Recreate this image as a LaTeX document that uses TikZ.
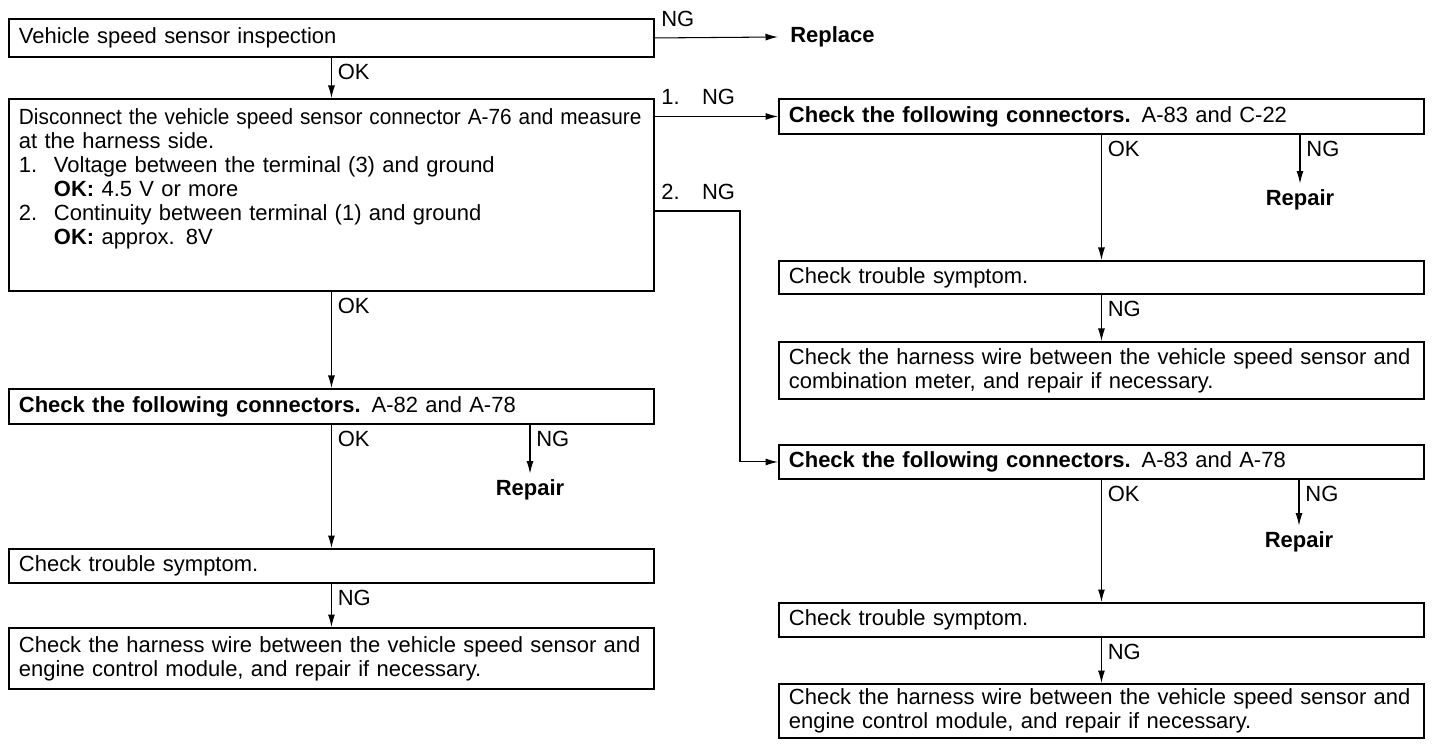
\documentclass[tikz,border=0pt]{standalone}
\usepackage{fontspec}
\setmainfont{Liberation Sans}
\usetikzlibrary{arrows.meta}

\tikzset{
	box/.style = {draw, line width = 1.1pt, anchor = north west, minimum width = 12.9cm, text width = 12.5cm, inner xsep = 0.2cm, inner ysep = 0.1cm, align = left},
	flow/.style = {->, line width = 0.6pt},
	result/.style = {font = \fontsize{12.5}{13.66}\selectfont\bfseries}
}

\begin{document}
\begin{tikzpicture}[> = {Latex[length = 0.25cm, width = 0.14cm]}, font = \fontsize{12.5}{13.66}\selectfont]

	\useasboundingbox (0, 0) rectangle (28.8, -14.96);

	% Left column
	
	\node [box, minimum height = 0.76cm] (vss) at (0.16, -0.36) {Vehicle speed sensor inspection};
	\node [box, minimum height = 3.84cm, inner ysep = 0.2cm] (meas) at (0.16, -1.96) {\parbox[t][3.44cm][t]{12.5cm}{%
		\resizebox{12.45cm}{\height}{Disconnect the vehicle speed sensor connector A-76 and measure}\\
		at the harness side.\\
		\makebox[0.7cm][l]{1.}Voltage between the terminal (3) and ground\\
		\hspace*{0.7cm}\textbf{OK:} 4.5 V or more\\
		\makebox[0.7cm][l]{2.}Continuity between terminal (1) and ground\\
		\hspace*{0.7cm}\textbf{OK:} approx. 8V}};
	\node [box, minimum height = 0.70cm] (conA) at (0.16, -7.76) {\textbf{Check the following connectors.} A-82 and A-78};
	\node [box, minimum height = 0.68cm] (symA) at (0.16, -10.96) {Check trouble symptom.};
	\node [box, minimum height = 1.22cm] (wireA) at (0.16, -12.54) {\mbox{Check the harness wire between the vehicle speed sensor and}\\ engine control module, and repair if necessary.};

	% Right column
	
	\node [box, minimum height = 0.70cm] (conB) at (15.56, -1.96) {\textbf{Check the following connectors.} A-83 and C-22};
	\node [box, minimum height = 0.66cm] (symB) at (15.56, -5.20) {Check trouble symptom.};
	\node [box, minimum height = 1.14cm] (wireB) at (15.56, -6.82) {\mbox{Check the harness wire between the vehicle speed sensor and}\\ combination meter, and repair if necessary.};
	\node [box, minimum height = 0.68cm] (conC) at (15.56, -8.88) {\textbf{Check the following connectors.} A-83 and A-78};
	\node [box, minimum height = 0.68cm] (symC) at (15.56, -12.04) {Check trouble symptom.};
	\node [box, minimum height = 1.08cm] (wireC) at (15.56, -13.66) {\mbox{Check the harness wire between the vehicle speed sensor and}\\ engine control module, and repair if necessary.};

	% Results
	
	\node [result, anchor = west, inner xsep = 0.24cm] (replace) at (15.56, -0.74) {Replace};
	\node [result] (repA) at (10.6, -9.8) {Repair};
	\node [result] (repB) at (26.0, -4.0) {Repair};
	\node [result] (repC) at (25.98, -10.84) {Repair};

	\coordinate (bend) at (14.8, -4.22);

	% Arrows
	
	\draw [flow] (vss.east) -- (replace.west) node [pos = 0, above right, yshift = 0.1cm] (ngA) {NG};
	\draw [flow] (vss.south) -- (meas.north) node [pos = 0, below right] (okA) {OK};
	\draw [flow] (meas.east |- conB.west) -- (conB.west) node [pos = 0, above right, yshift = 0.1cm] (ngB) {1.\hspace{0.45cm}NG};
	\draw [flow] (meas.east |- bend) -- node [pos = 0, above right, yshift = 0.1cm] (ngC) {2.\hspace{0.45cm}NG} (bend) |- (conC.west);
	
	\draw [flow] (meas.south) -- (conA.north) node [pos = 0, below right] (okB) {OK};
	\draw [flow] (conA.south) -- (symA.north) node [pos = 0, below right] (okC) {OK};
	\draw [flow] (conA.south -| repA) -- (repA.north) node [pos = 0, below right] (ngD) {NG};
	\draw [flow] (symA.south) -- (wireA.north) node [pos = 0, below right] (ngE) {NG};
	
	\draw [flow] (conB.south) -- (symB.north) node [pos = 0, below right] (okD) {OK};
	\draw [flow] (conB.south -| repB) -- (repB.north) node [pos = 0, below right] (ngF) {NG};
	\draw [flow] (symB.south) -- (wireB.north) node [pos = 0, below right] (ngG) {NG};
	\draw [flow] (conC.south) -- (symC.north) node [pos = 0, below right] (okE) {OK};
	\draw [flow] (conC.south -| repC) -- (repC.north) node [pos = 0, below right] (ngH) {NG};
	\draw [flow] (symC.south) -- (wireC.north) node [pos = 0, below right] (ngI) {NG};

\end{tikzpicture}
\end{document}
